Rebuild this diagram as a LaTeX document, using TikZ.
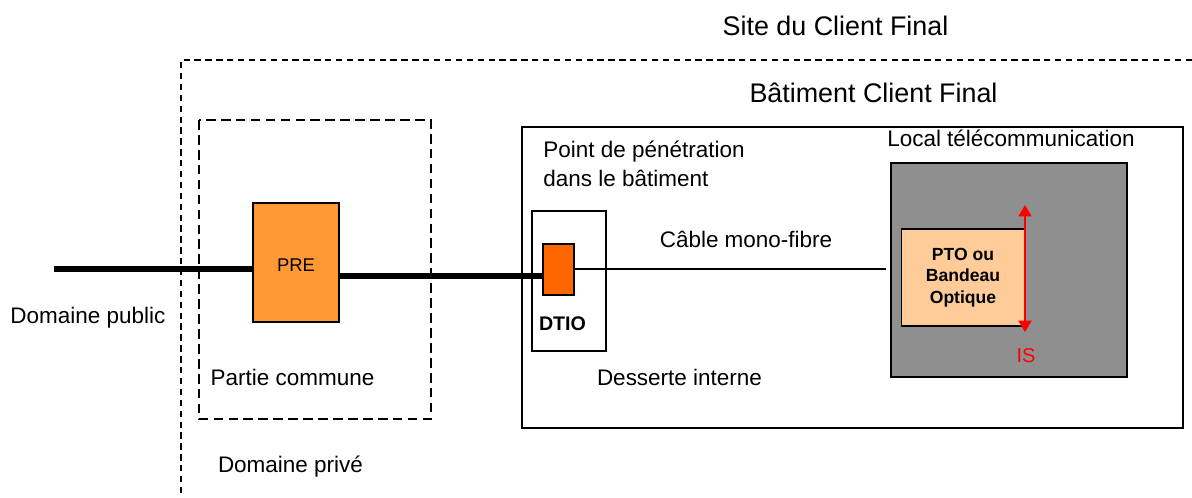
\documentclass[tikz,border=0pt]{standalone}
\usepackage{fontspec}
\setmainfont{Liberation Sans}
\usetikzlibrary{arrows.meta}
\definecolor{preorange}{HTML}{FF9933}
\definecolor{dtioorange}{HTML}{FF6600}
\definecolor{localgray}{HTML}{8F8F8F}
\definecolor{ptofill}{HTML}{FFCC99}
\begin{document}
\begin{tikzpicture}[x=0.02cm,y=-0.02cm,
  lbl/.style={font=\fontsize{12.8}{15}\selectfont, inner sep=0pt, anchor=base},
  biglbl/.style={font=\fontsize{15.3}{18}\selectfont, inner sep=0pt, anchor=base},
  boxnode/.style={draw, line width=0.6pt, inner sep=0pt, rectangle},
  outerdash/.style={line width=0.7pt, dash pattern=on 3.6pt off 2.6pt},
  innerdash/.style={line width=1.2pt, dash pattern=on 5.5pt off 3pt},
  fibre/.style={line width=3.4pt},
  cable/.style={line width=0.6pt},
  isarrow/.style={red, line width=0.9pt, {Triangle[length=6.5pt,width=7.5pt]}-{Triangle[length=6.5pt,width=7.5pt]}}
]
\useasboundingbox (0,0) rectangle (1192,497);

% regions
\draw[outerdash] (1192,60) -- (181,60) -- (181,497);
\draw[innerdash] (199,120) rectangle (431,419);
\draw[line width=0.75pt] (522,127) rectangle (1183,428);

% nodes
\node[boxnode, fill=preorange, minimum width=1.72cm, minimum height=2.38cm] (PRE) at (296,262.5) {};
\node[lbl, font=\fontsize{10.5}{12}\selectfont] at (296,271) {PRE};

\node[boxnode, minimum width=1.48cm, minimum height=2.8cm] (dtiobox) at (569,281) {};
\node[boxnode, fill=dtioorange, minimum width=0.62cm, minimum height=1.02cm] (dtio) at (558.5,269.5) {};
\node[lbl, font=\fontsize{11.2}{13}\selectfont\bfseries] at (562.5,330) {DTIO};

\node[boxnode, line width=0.75pt, fill=localgray, minimum width=4.72cm, minimum height=4.28cm] (local) at (1009,270) {};
\node[boxnode, fill=ptofill, minimum width=2.48cm, minimum height=1.94cm, align=center,
      font=\fontsize{10}{12.2}\selectfont\bfseries] (pto) at (963,277.5) {PTO ou\\Bandeau\\Optique};

% connectors
\coordinate (pubend) at (54,269);
\coordinate (cableend) at (886,269);
\coordinate (istop) at (1025,205);
\coordinate (isbot) at (1025,332);
\draw[fibre] (pubend) -- (pubend -| PRE.west);
\draw[fibre] (PRE.east |- 0,276) -- (dtio.west |- 0,276);
\draw[cable] (dtio.east |- cableend) -- (cableend);
\draw[isarrow] (istop) -- (isbot);

% labels
\node[biglbl] at (835.5,35) {Site du Client Final};
\node[biglbl] at (873.5,102) {Bâtiment Client Final};
\node[lbl, anchor=base west] at (543,157) {Point de pénétration};
\node[lbl, anchor=base west] at (543,186) {dans le bâtiment};
\node[lbl] at (1011,146) {Local télécommunication};
\node[lbl] at (746,247) {Câble mono-fibre};
\node[lbl] at (679.5,385) {Desserte interne};
\node[lbl] at (88,323) {Domaine public};
\node[lbl] at (292.5,385) {Partie commune};
\node[lbl] at (290.5,472) {Domaine privé};
\node[lbl, text=red, font=\fontsize{11.4}{13}\selectfont] at (1026,362) {IS};
\end{tikzpicture}
\end{document}
